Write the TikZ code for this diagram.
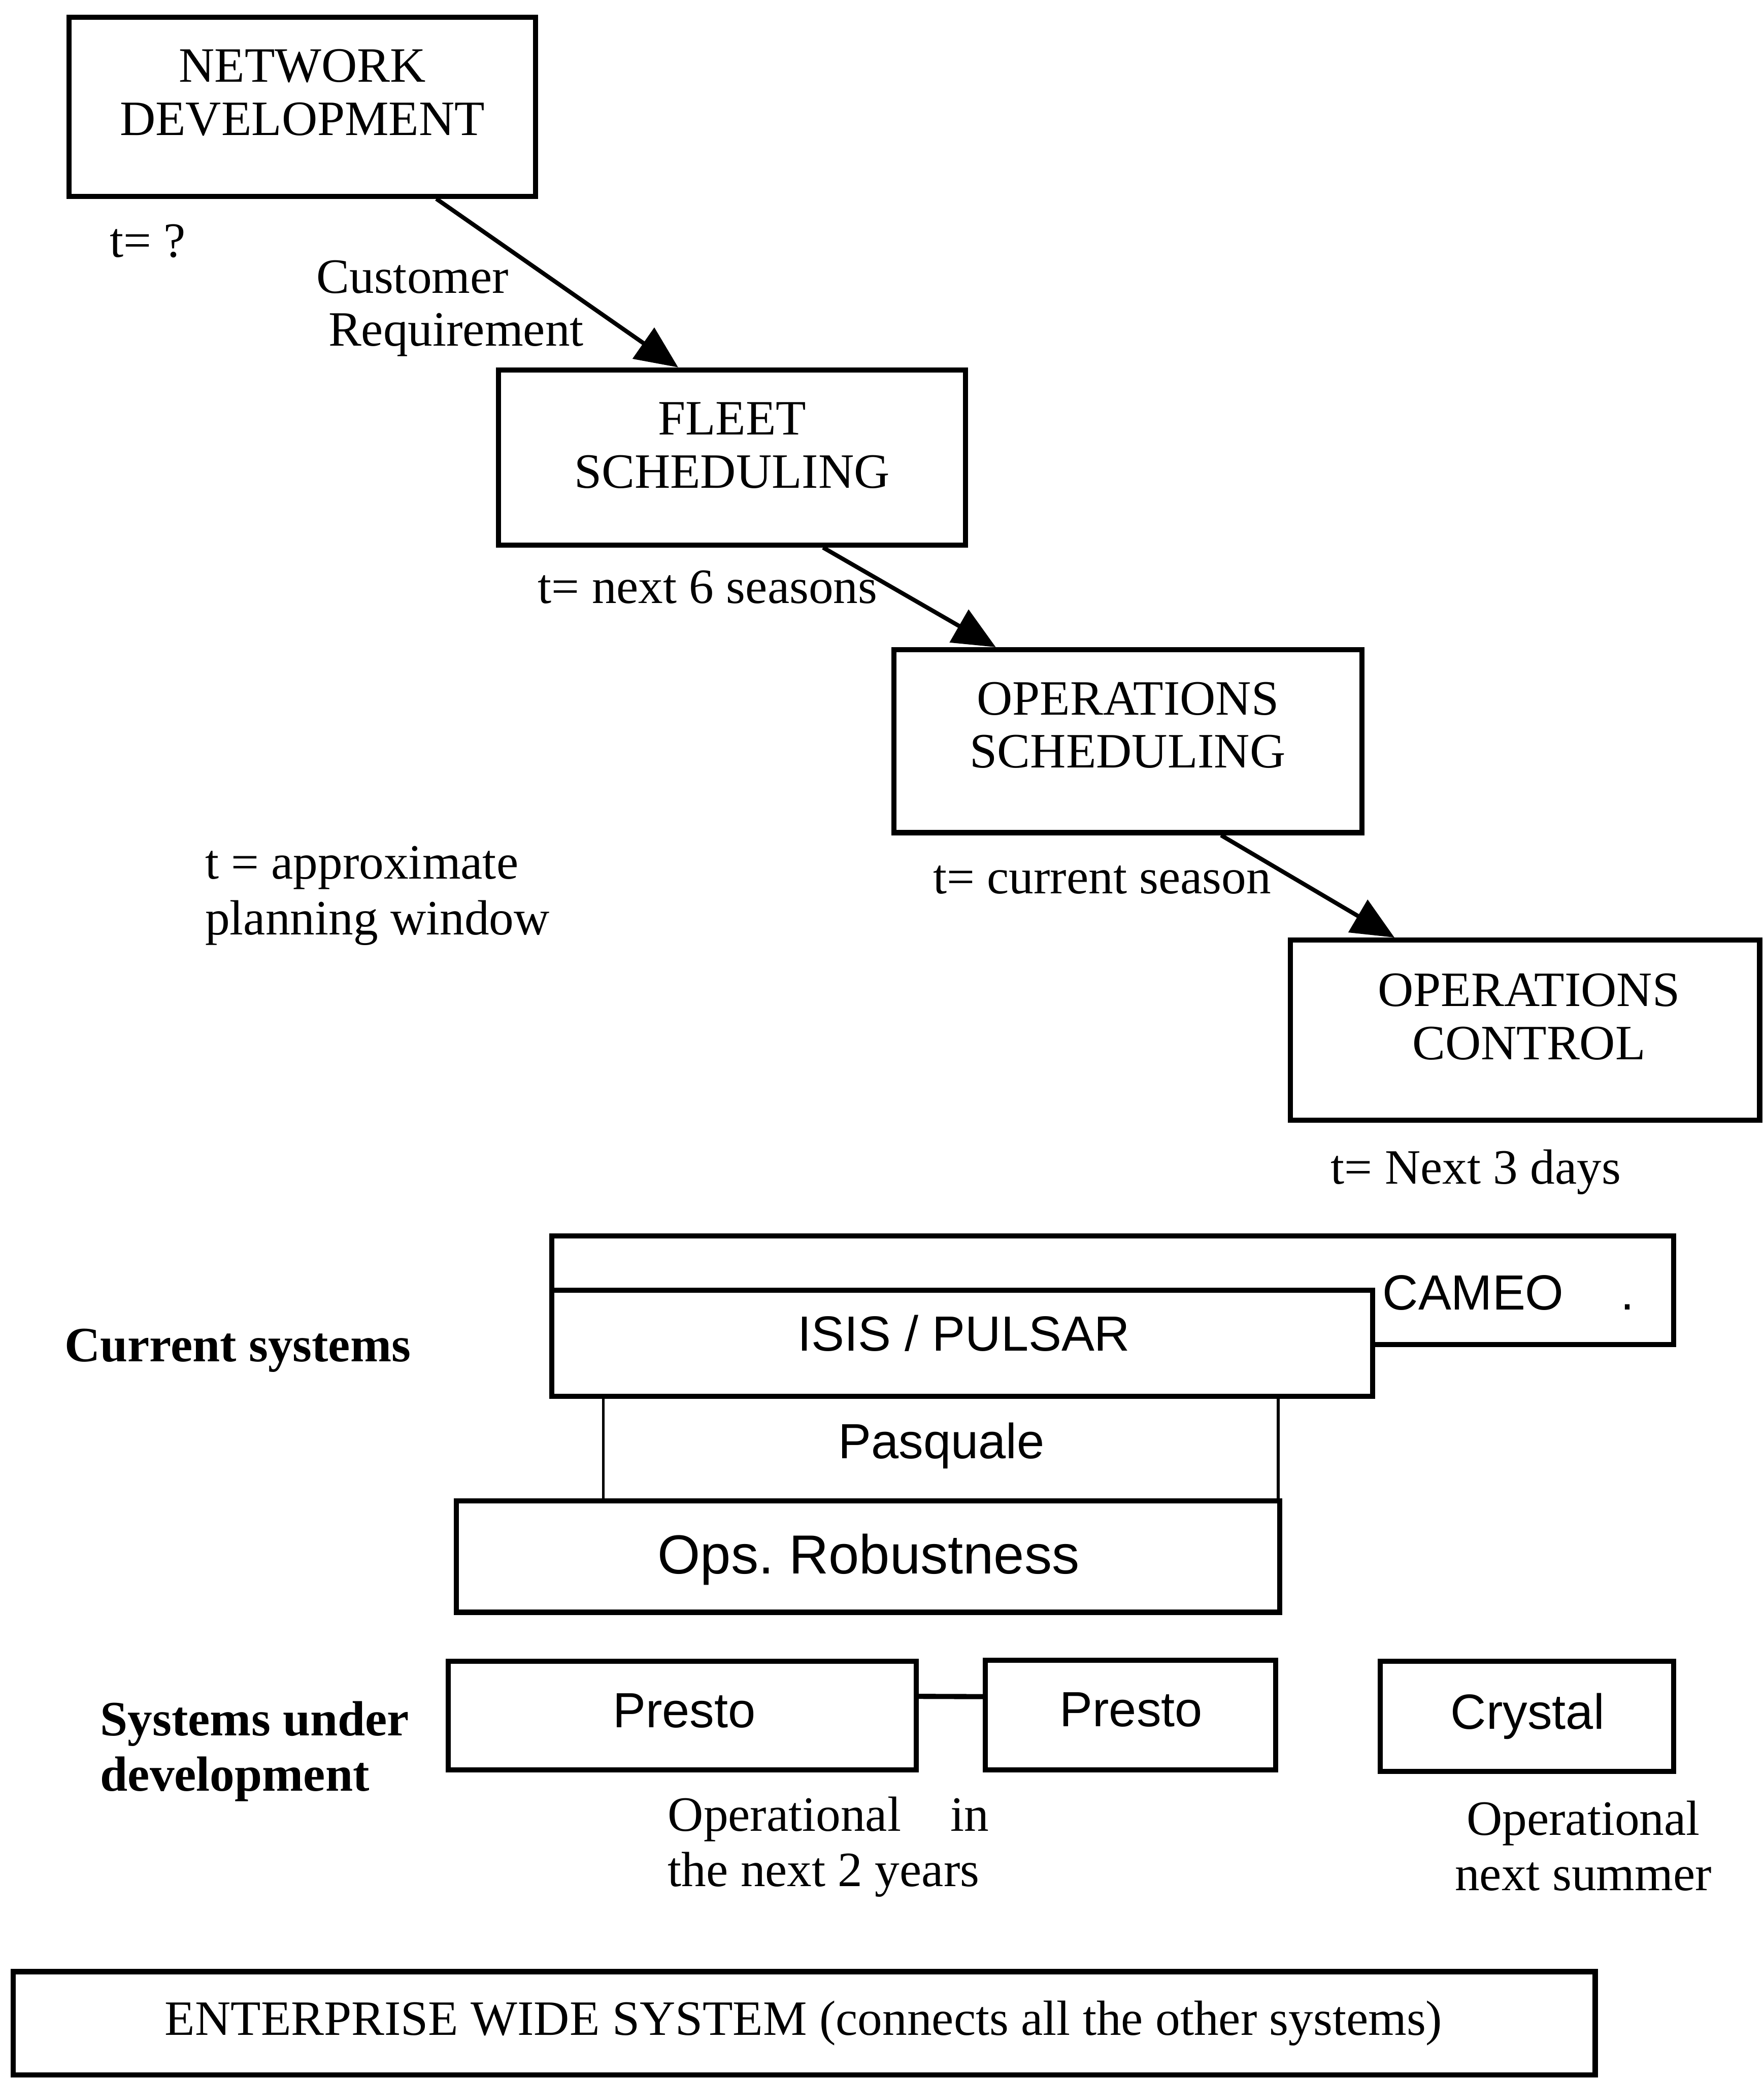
\documentclass[tikz,border=0pt]{standalone}
\usepackage{fontspec}
\setmainfont{Liberation Serif}
\setsansfont{Liberation Sans}
\usetikzlibrary{arrows.meta,calc}

% two-line blocks whose reference point is the first baseline
\newcommand{\pairc}[2]{\begin{tabular}[t]{@{}c@{}}#1\\#2\end{tabular}}
\newcommand{\pairl}[2]{\begin{tabular}[t]{@{}l@{}}#1\\#2\end{tabular}}

\begin{document}
\begin{tikzpicture}[x=0.1mm, y=-0.1mm,
  box/.style={draw, line width=1.1pt, inner sep=0pt, fill=white},
  thinbox/.style={draw, line width=0.6pt, inner sep=0pt},
  txt/.style={inner sep=0pt, font=\fontsize{10.6}{11.4}\selectfont},
  txtwide/.style={inner sep=0pt, font=\fontsize{10.6}{11.9}\selectfont},
  sans/.style={inner sep=0pt, font=\fontsize{10.6}{12}\selectfont\sffamily},
  flow/.style={line width=0.9pt, -{Triangle[length=3.2mm,width=2.8mm]}},
  link/.style={line width=1.1pt}
]
\useasboundingbox (0,0) rectangle (1330,1568);

% planning stages
\node[box, minimum width=35.2mm, minimum height=13.5mm] (nd) at (228,80.5) {};
\node[txt, anchor=base] (ndt) at (228,62) {\pairc{NETWORK}{DEVELOPMENT}};
\node[box, minimum width=35.2mm, minimum height=13.2mm] (fs) at (552,345) {};
\node[txt, anchor=base] (fst) at (552,328) {\pairc{FLEET}{SCHEDULING}};
\node[box, minimum width=35.3mm, minimum height=13.8mm] (os) at (850.5,559) {};
\node[txt, anchor=base] (ost) at (850.5,539) {\pairc{OPERATIONS}{SCHEDULING}};
\node[box, minimum width=35.4mm, minimum height=13.6mm] (oc) at (1150,777) {};
\node[txt, anchor=base] (oct) at (1153,759) {\pairc{OPERATIONS}{CONTROL}};

% planning windows
\node[txt, anchor=base west] (tnd) at (82,194) {t= ?};
\node[txt, anchor=base west] (cr) at (238,221) {\pairl{Customer}{\hspace{0.9mm}Requirement}};
\node[txt, anchor=base west] (tfs) at (405,455) {t= next 6 seasons};
\node[txt, anchor=base west] (tos) at (703,674) {t= current season};
\node[txt, anchor=base west] (toc) at (1003,893) {t= Next 3 days};
\node[txtwide, anchor=base west] (tkey) at (154,663) {\pairl{t = approximate}{planning window}};

% stage hand-overs
\draw[flow] ($(nd.south west)!0.784!(nd.south east)$) -- ($(fs.north west)!0.386!(fs.north east)$);
\draw[flow] ($(fs.south west)!0.693!(fs.south east)$) -- ($(os.north west)!0.221!(os.north east)$);
\draw[flow] ($(os.south west)!0.697!(os.south east)$) -- ($(oc.north west)!0.225!(oc.north east)$);

% current systems
\node[txt, font=\fontsize{10.6}{11.4}\selectfont\bfseries, anchor=base west] (cur) at (48,1027) {Current systems};
\node[box, minimum width=84.6mm, minimum height=8.2mm] (cameo) at (839,973) {};
\node[sans, anchor=base west] (cameot) at (1042,988) {CAMEO\hspace{4.3mm}.};
\node[thinbox, minimum width=50.9mm, minimum height=7.9mm] (pasq) at (709.5,1092.5) {};
\node[box, minimum width=61.9mm, minimum height=8.0mm] (isis) at (725.5,1013) {};
\node[sans, anchor=base] (isist) at (727,1019) {ISIS / PULSAR};
\node[sans, anchor=base] (pasqt) at (710,1100) {Pasquale};
\node[box, minimum width=62.1mm, minimum height=8.4mm] (ops) at (654.5,1174) {};
\node[sans, font=\fontsize{11.8}{13}\selectfont\sffamily, anchor=base] (opst) at (655,1187) {Ops.\ Robustness};

% systems under development
\node[txtwide, font=\fontsize{10.6}{11.9}\selectfont\bfseries, anchor=base west] (dev) at (75,1309) {\pairl{Systems under}{development}};
\node[box, minimum width=35.3mm, minimum height=8.2mm] (pr1) at (514.5,1294) {};
\node[sans, anchor=base] (pr1t) at (516,1303) {Presto};
\node[box, minimum width=21.9mm, minimum height=8.3mm] (pr2) at (852.5,1293.5) {};
\node[sans, anchor=base] (pr2t) at (853,1302) {Presto};
\node[box, minimum width=22.1mm, minimum height=8.3mm] (cry) at (1151.5,1294.5) {};
\node[sans, anchor=base] (cryt) at (1152,1304) {Crystal};
\draw[link] ($(pr1.north east)!0.33!(pr1.south east)$) -- ($(pr2.north west)!0.34!(pr2.south west)$);

\node[txtwide, anchor=base west] (prnote) at (503,1381)
  {\begin{tabular}[t]{@{}l@{}}\makebox[24.2mm][s]{Operational\hfill in}\\the next 2 years\end{tabular}};
\node[txtwide, anchor=base] (crynote) at (1194,1384) {\pairc{Operational}{next summer}};

% enterprise layer
\node[box, minimum width=119.3mm, minimum height=7.8mm] (ent) at (606.5,1526) {};
\node[txt, anchor=base] (entt) at (606,1535) {ENTERPRISE WIDE SYSTEM (connects all the other systems)};
\end{tikzpicture}
\end{document}
